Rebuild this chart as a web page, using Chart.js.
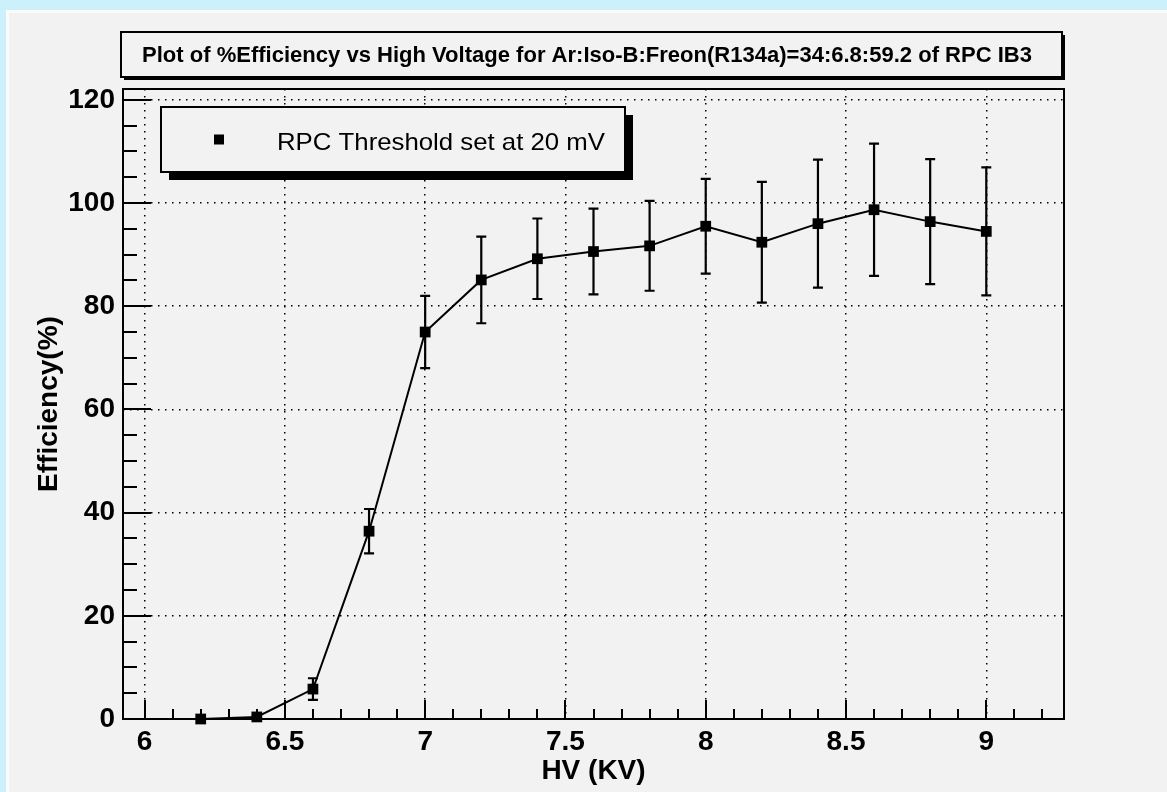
<!DOCTYPE html>
<html>
<head>
<meta charset="utf-8">
<title>RPC IB3 efficiency vs HV</title>
<script src="https://cdn.jsdelivr.net/npm/chart.js@4.4.1/dist/chart.umd.min.js"></script>
<style>
  html, body { margin: 0; padding: 0; background: #cdf1fb; overflow: hidden; }
  #frame {
    position: absolute; left: 6px; top: 10px; width: 1161px; height: 782px;
    background: #f2f2f2; border-top: 3px solid #fbfbfb; border-left: 3px solid #fbfbfb;
    box-sizing: border-box;
  }
  #chart { position: absolute; left: 0; top: 0; }
</style>
</head>
<body>
<div id="frame"></div>
<canvas id="chart" width="1167" height="792"></canvas>
<script>
const titleText = "Plot of %Efficiency vs High Voltage for Ar:Iso-B:Freon(R134a)=34:6.8:59.2 of RPC IB3";
const seriesLabel = "RPC Threshold set at 20 mV";

// HV in KV, efficiency in %, error on efficiency
const hv = [6.2, 6.4, 6.6, 6.8, 7.0, 7.2, 7.4, 7.6, 7.8, 8.0, 8.2, 8.4, 8.6, 8.8, 9.0];
const efficiency = [0, 0.4, 5.8, 36.4, 75.0, 85.1, 89.2, 90.6, 91.7, 95.5, 92.4, 96.0, 98.7, 96.4, 94.5];
const efficiencyErr = [0, 0.3, 2.1, 4.3, 7.0, 8.4, 7.8, 8.3, 8.7, 9.2, 11.7, 12.4, 12.8, 12.1, 12.4];

const xTicks = [6, 6.5, 7, 7.5, 8, 8.5, 9];
const yTicks = [0, 20, 40, 60, 80, 100, 120];

const fontFamily = '"Liberation Sans", Arial, Helvetica, sans-serif';
const paneColor = "#f2f2f2";

// error bars with small caps, drawn under the markers
const errorBars = {
  id: "errorBars",
  beforeDatasetsDraw(chart) {
    const ctx = chart.ctx;
    const xs = chart.scales.x;
    const ys = chart.scales.y;
    ctx.save();
    ctx.strokeStyle = "#000";
    ctx.lineWidth = 2.2;
    hv.forEach((v, i) => {
      const e = efficiencyErr[i];
      if (!e) return;
      const px = xs.getPixelForValue(v);
      const top = ys.getPixelForValue(efficiency[i] + e);
      const bottom = ys.getPixelForValue(efficiency[i] - e);
      ctx.beginPath();
      ctx.moveTo(px, top);
      ctx.lineTo(px, bottom);
      ctx.moveTo(px - 5, top);
      ctx.lineTo(px + 5, top);
      ctx.moveTo(px - 5, bottom);
      ctx.lineTo(px + 5, bottom);
      ctx.stroke();
    });
    ctx.restore();
  }
};

// ROOT style frame with ticks pointing inwards
const rootFrame = {
  id: "rootFrame",
  beforeDatasetsDraw(chart) {
    const { ctx, chartArea: a } = chart;
    const x = chart.scales.x;
    const y = chart.scales.y;
    ctx.save();
    ctx.strokeStyle = "#000";
    ctx.lineWidth = 2;
    ctx.strokeRect(a.left, a.top, a.right - a.left, a.bottom - a.top);
    ctx.beginPath();
    for (let k = Math.ceil(x.min * 10); k <= x.max * 10; k++) {
      const px = Math.round(x.getPixelForValue(k / 10));
      const len = k % 5 === 0 ? 19 : 10;
      ctx.moveTo(px, a.bottom);
      ctx.lineTo(px, a.bottom - len);
    }
    for (let k = Math.ceil(y.min / 5); k * 5 <= y.max; k++) {
      const py = Math.round(y.getPixelForValue(k * 5));
      const len = k % 4 === 0 ? 28 : 14;
      ctx.moveTo(a.left, py);
      ctx.lineTo(a.left + len, py);
    }
    ctx.stroke();
    ctx.restore();
  }
};

function shadowBox(ctx, x, y, w, h, sx, sy) {
  ctx.fillStyle = "#000";
  ctx.fillRect(x + sx, y + sy, w, h);
  ctx.fillStyle = paneColor;
  ctx.fillRect(x, y, w, h);
  ctx.strokeStyle = "#000";
  ctx.lineWidth = 2;
  ctx.strokeRect(x, y, w, h);
}

// draw text squeezed/stretched to a given width
function fitText(ctx, text, left, baseline, width) {
  const w = ctx.measureText(text).width;
  ctx.save();
  ctx.translate(left, baseline);
  ctx.scale(width / w, 1);
  ctx.textAlign = "left";
  ctx.textBaseline = "alphabetic";
  ctx.fillText(text, 0, 0);
  ctx.restore();
}

const rootBoxes = {
  id: "rootBoxes",
  afterDraw(chart) {
    const ctx = chart.ctx;
    const ds = chart.data.datasets[0];
    ctx.save();

    // legend
    shadowBox(ctx, 161, 107, 464, 65, 8, 8);
    ctx.fillStyle = "#000";
    ctx.fillRect(214, 134.5, 10, 10);
    ctx.font = "24px " + fontFamily;
    fitText(ctx, ds.label, 277, 150, 328);

    // title
    shadowBox(ctx, 121, 32, 941, 45, 3, 3);
    ctx.fillStyle = "#000";
    ctx.font = "bold 22px " + fontFamily;
    fitText(ctx, titleText, 142, 62, 890);

    ctx.restore();
  }
};

const tickFont = { family: fontFamily, size: 28, weight: "bold" };

new Chart(document.getElementById("chart"), {
  type: "line",
  data: {
    datasets: [{
      label: seriesLabel,
      data: hv.map((v, i) => ({ x: v, y: efficiency[i] })),
      borderColor: "#000",
      backgroundColor: "#000",
      borderWidth: 2,
      tension: 0,
      pointStyle: "rect",
      pointRadius: 7.6,
      pointBorderWidth: 0,
      pointBackgroundColor: "#000",
      clip: false
    }]
  },
  options: {
    responsive: false,
    animation: false,
    events: [],
    layout: { padding: { left: 0, top: 89, right: 103, bottom: 0 } },
    plugins: {
      legend: { display: false },
      title: { display: false },
      tooltip: { enabled: false }
    },
    scales: {
      x: {
        type: "linear",
        min: 5.923,
        max: 9.277,
        afterBuildTicks: (s) => { s.ticks = xTicks.map((v) => ({ value: v })); },
        afterFit: (s) => { s.height = 73; },
        grid: { color: "#000", lineWidth: 1.5, drawTicks: false },
        border: { display: false, dash: [1.5, 5.5] },
        ticks: {
          color: "#000", padding: 6, font: tickFont,
          maxRotation: 0, autoSkip: false,
          callback: (v) => String(v)
        },
        title: {
          display: true, text: "HV (KV)", color: "#000", font: tickFont,
          padding: { top: 0, bottom: 4 }
        }
      },
      y: {
        type: "linear",
        min: 0,
        max: 122.1,
        afterBuildTicks: (s) => { s.ticks = yTicks.map((v) => ({ value: v })); },
        afterFit: (s) => { s.width = 123; },
        grid: { color: "#000", lineWidth: 1.5, drawTicks: false },
        border: { display: false, dash: [1.5, 5.5] },
        ticks: {
          color: "#000", padding: 8, font: tickFont,
          callback: (v) => String(v)
        },
        title: {
          display: true, text: "Efficiency(%)", color: "#000", font: tickFont,
          padding: { top: 32, bottom: 0 }
        }
      }
    }
  },
  plugins: [rootFrame, errorBars, rootBoxes]
});
</script>
</body>
</html>
